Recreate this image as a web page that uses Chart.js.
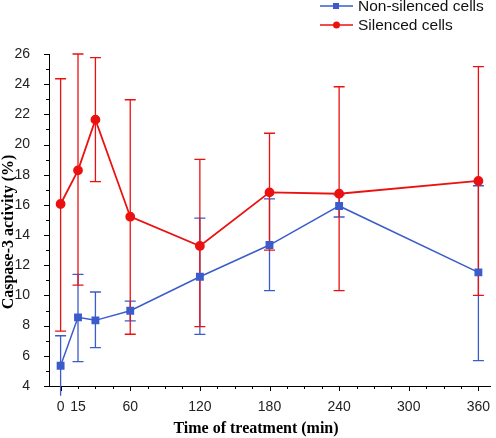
<!DOCTYPE html>
<html>
<head>
<meta charset="utf-8">
<script src="https://cdn.jsdelivr.net/npm/chart.js@4/dist/chart.umd.min.js"></script>
<style>
  html, body { margin: 0; padding: 0; background: #fff; }
  #wrap { width: 496px; height: 438px; }
</style>
</head>
<body>
<div id="wrap"><canvas id="caspaseChart" width="496" height="438"></canvas></div>
<script>
// Data
const times = [0, 15, 30, 60, 120, 180, 240, 360];
const nonSilenced = [5.34, 8.55, 8.35, 8.99, 11.24, 13.34, 15.93, 11.53];
const nonSilencedHi = [7.33, 11.4, 10.23, 9.63, 15.13, 16.4, 16.66, 17.27];
const nonSilencedLo = [3.35, 5.61, 6.54, 8.31, 7.42, 10.32, 15.2, 5.68];
const silenced = [16.06, 18.29, 21.65, 15.22, 13.28, 16.83, 16.74, 17.59];
const silencedHi = [24.36, 26.0, 25.76, 22.97, 19.02, 20.75, 23.83, 25.16];
const silencedLo = [7.64, 10.69, 17.54, 7.43, 7.93, 13.0, 10.32, 10.01];
const xLabels = [0, 15, 60, 120, 180, 240, 300, 360];
const yLabels = [4, 6, 8, 10, 12, 14, 16, 18, 20, 22, 24, 26];

const BLUE = '#3b5ccb';
const RED = '#ec1111';

const errorBars = [
  { color: BLUE, hi: nonSilencedHi, lo: nonSilencedLo },
  { color: RED, hi: silencedHi, lo: silencedLo }
];

// error bars, tick marks, axis titles and legend
const extras = {
  id: 'extras',
  beforeDatasetsDraw(chart) {
    const ctx = chart.ctx;
    const x = chart.scales.x, y = chart.scales.y;
    ctx.save();
    ctx.lineWidth = 1.3;
    errorBars.forEach(eb => {
      ctx.strokeStyle = eb.color;
      times.forEach((t, i) => {
        const px = x.getPixelForValue(t);
        const top = y.getPixelForValue(eb.hi[i]);
        const bot = y.getPixelForValue(eb.lo[i]);
        ctx.beginPath();
        ctx.moveTo(px, top);
        ctx.lineTo(px, bot);
        if (eb.hi[i] <= y.max) { ctx.moveTo(px - 5.5, top); ctx.lineTo(px + 5.5, top); }
        if (eb.lo[i] >= y.min) { ctx.moveTo(px - 5.5, bot); ctx.lineTo(px + 5.5, bot); }
        ctx.stroke();
      });
    });
    ctx.restore();
  },
  afterDraw(chart) {
    const ctx = chart.ctx;
    const x = chart.scales.x, y = chart.scales.y;
    const area = chart.chartArea;
    ctx.save();
    ctx.strokeStyle = '#000';
    ctx.lineWidth = 1;
    ctx.beginPath();
    for (let v = 0; v <= 360; v += 15) {
      const px = Math.round(x.getPixelForValue(v)) + 0.5;
      const len = v % 60 === 0 ? 5 : 3;
      ctx.moveTo(px, area.bottom);
      ctx.lineTo(px, area.bottom + len);
    }
    for (let v = 4; v <= 26; v += 1) {
      const py = Math.round(y.getPixelForValue(v)) + 0.5;
      const len = v % 2 === 0 ? 5 : 3;
      ctx.moveTo(area.left, py);
      ctx.lineTo(area.left - len, py);
    }
    ctx.stroke();

    // axis titles
    ctx.fillStyle = '#000';
    ctx.font = 'bold 16px "Liberation Serif", "Times New Roman", serif';
    ctx.textAlign = 'center';
    ctx.textBaseline = 'alphabetic';
    ctx.fillText('Time of treatment (min)', 256, 433);
    ctx.save();
    ctx.translate(13, 232);
    ctx.rotate(-Math.PI / 2);
    ctx.fillText('Caspase-3 activity (%)', 0, 0);
    ctx.restore();

    // legend
    const items = [
      { label: 'Non-silenced cells', color: BLUE, y: 6, shape: 'square' },
      { label: 'Silenced cells', color: RED, y: 25, shape: 'circle' }
    ];
    ctx.font = '15.5px "Liberation Sans", Arial, sans-serif';
    ctx.textAlign = 'left';
    ctx.textBaseline = 'middle';
    items.forEach(it => {
      ctx.strokeStyle = it.color;
      ctx.fillStyle = it.color;
      ctx.lineWidth = 1.5;
      ctx.beginPath();
      ctx.moveTo(320, it.y);
      ctx.lineTo(353, it.y);
      ctx.stroke();
      ctx.beginPath();
      if (it.shape === 'square') ctx.rect(333, it.y - 3, 6, 6);
      else ctx.arc(336.5, it.y, 3.5, 0, Math.PI * 2);
      ctx.fill();
      ctx.fillStyle = '#111';
      ctx.fillText(it.label, 358, it.y + 1);
    });
    ctx.restore();
  }
};

new Chart(document.getElementById('caspaseChart'), {
  type: 'line',
  data: {
    datasets: [
      {
        label: 'Silenced cells',
        data: times.map((t, i) => ({ x: t, y: silenced[i] })),
        borderColor: RED,
        backgroundColor: RED,
        borderWidth: 1.8,
        pointStyle: 'circle',
        pointRadius: 4,
        tension: 0
      },
      {
        label: 'Non-silenced cells',
        data: times.map((t, i) => ({ x: t, y: nonSilenced[i] })),
        borderColor: BLUE,
        backgroundColor: BLUE,
        borderWidth: 1.5,
        pointStyle: 'rect',
        pointRadius: 4.5,
        tension: 0
      }
    ]
  },
  options: {
    responsive: false,
    animation: false,
    layout: { padding: { top: 54, right: 1, left: 0, bottom: 0 } },
    plugins: {
      legend: { display: false },
      tooltip: { enabled: false }
    },
    scales: {
      x: {
        type: 'linear',
        min: -10,
        max: 370,
        afterBuildTicks: scale => { scale.ticks = xLabels.map(v => ({ value: v })); },
        afterFit: scale => { scale.height = 52; },
        grid: { display: false },
        border: { display: true, color: '#000', width: 1 },
        ticks: {
          padding: 5,
          color: '#222',
          maxRotation: 0,
          autoSkip: false,
          font: { family: '"Liberation Sans", Arial, sans-serif', size: 14 }
        }
      },
      y: {
        min: 4,
        max: 26,
        afterBuildTicks: scale => { scale.ticks = yLabels.map(v => ({ value: v })); },
        afterFit: scale => { scale.width = 49; },
        grid: { display: false },
        border: { display: true, color: '#000', width: 1 },
        ticks: {
          padding: 11,
          color: '#222',
          font: { family: '"Liberation Sans", Arial, sans-serif', size: 14 }
        }
      }
    }
  },
  plugins: [extras]
});
</script>
</body>
</html>
